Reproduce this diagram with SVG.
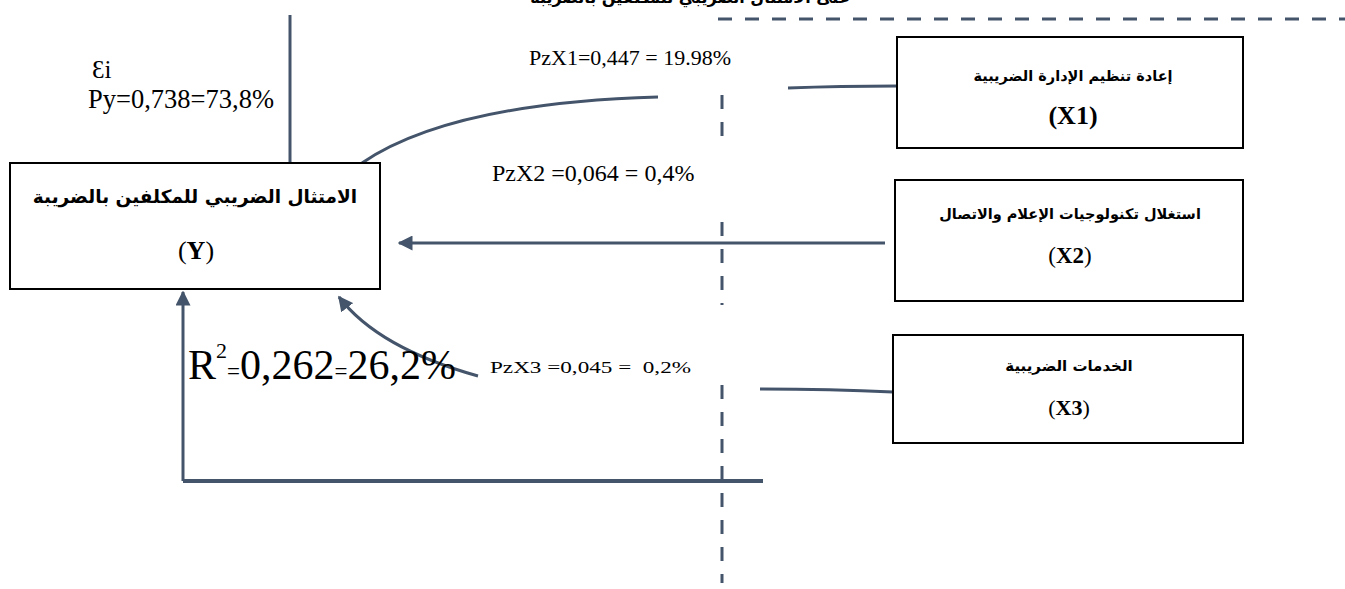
<svg xmlns="http://www.w3.org/2000/svg" width="1345" height="589" viewBox="0 0 1345 589">
<style>
.box{fill:#fff;stroke:#000;stroke-width:2}
.ln{fill:none;stroke:#44546A;stroke-width:3}
.dash{fill:none;stroke:#44546A;stroke-width:3;stroke-dasharray:14 13}
.ar{font-family:"DejaVu Sans",sans-serif;font-weight:bold;font-size:15px;fill:#000}
.tm{font-family:"Liberation Serif","Times New Roman","DejaVu Serif",serif;fill:#000}
</style>
<defs>
<marker id="ah" viewBox="0 0 10 10" refX="9" refY="5" markerWidth="5" markerHeight="5" orient="auto" markerUnits="strokeWidth">
<path d="M0,0 L10,5 L0,10 z" fill="#44546A"/>
</marker>
</defs>
<rect width="1345" height="589" fill="#fff"/>
<text class="ar" x="690" y="3" text-anchor="middle" direction="rtl" style="font-size:16px">على الامتثال الضريبي للمكلفين بالضريبة</text>
<g id="connectors">
<line class="dash" x1="718" y1="19" x2="1345" y2="19"/>
<line class="dash" x1="722" y1="95" x2="722" y2="145"/>
<line class="dash" x1="722" y1="222" x2="722" y2="305"/>
<line class="dash" x1="722" y1="385" x2="722" y2="583"/>
<line class="ln" x1="290" y1="15" x2="290" y2="163"/>
<path class="ln" d="M362,163 Q450,103 658,97"/>
<path class="ln" d="M897,86 Q840,86 788,88"/>
<line class="ln" x1="885" y1="243" x2="399" y2="243" marker-end="url(#ah)"/>
<path class="ln" d="M893,392 Q830,389 760,389"/>
<path class="ln" d="M478,376 Q378,348 339,297" marker-end="url(#ah)"/>
<line class="ln" x1="183" y1="481" x2="183" y2="292" marker-end="url(#ah)"/>
<line class="ln" x1="183" y1="481" x2="763" y2="481" style="stroke-width:4"/>
</g>
<g id="node-Y">
<rect class="box" x="10" y="163" width="370" height="126"/>
<text class="ar" x="195" y="203" text-anchor="middle" direction="rtl" style="font-size:18.5px">الامتثال الضريبي للمكلفين بالضريبة</text>
<text class="tm" x="196" y="259" text-anchor="middle" font-family="Liberation Serif, serif" font-size="26">(<tspan font-weight="bold">Y</tspan>)</text>
</g>
<g id="node-X1">
<rect class="box" x="897" y="37" width="346" height="111"/>
<text class="ar" x="1073" y="81" text-anchor="middle" direction="rtl" style="font-size:14.5px">إعادة تنظيم الإدارة الضريبية</text>
<text class="tm" x="1073" y="124" text-anchor="middle" font-family="Liberation Serif, serif" font-size="26" font-weight="bold">(X1)</text>
</g>
<g id="node-X2">
<rect class="box" x="895" y="180" width="348" height="121"/>
<text class="ar" x="1070" y="219" text-anchor="middle" direction="rtl" style="font-size:14.5px">استغلال تكنولوجيات الإعلام والاتصال</text>
<text class="tm" x="1070" y="263" text-anchor="middle" font-family="Liberation Serif, serif" font-size="23">(<tspan font-weight="bold">X2</tspan>)</text>
</g>
<g id="node-X3">
<rect class="box" x="893" y="335" width="350" height="108"/>
<text class="ar" x="1069" y="371" text-anchor="middle" direction="rtl">الخدمات الضريبية</text>
<text class="tm" x="1069" y="415" text-anchor="middle" font-family="Liberation Serif, serif" font-size="22">(<tspan font-weight="bold">X3</tspan>)</text>
</g>
<g id="labels">
<text class="tm" x="92" y="78" font-family="Liberation Serif, serif" font-size="25">Ɛi</text>
<text class="tm" x="88" y="108" font-family="Liberation Serif, serif" font-size="26.5">Py=0,738=73,8%</text>
<text class="tm" x="529" y="65" font-family="Liberation Serif, serif" font-size="22">PzX1=0,447 = 19.98%</text>
<text class="tm" x="492" y="181" font-family="Liberation Serif, serif" font-size="24">PzX2 =0,064 = 0,4%</text>
<text class="tm" x="490" y="373" font-family="Liberation Serif, serif" font-size="17" xml:space="preserve" textLength="201" lengthAdjust="spacingAndGlyphs">PzX3 =0,045 =  0,2%</text>
<text class="tm" x="188" y="379" font-family="Liberation Serif, serif" font-size="42">R<tspan font-size="22" dy="-21">2</tspan><tspan font-size="23" dy="21">=</tspan>0,262<tspan font-size="23">=</tspan>26,2%</text>
</g>
</svg>
